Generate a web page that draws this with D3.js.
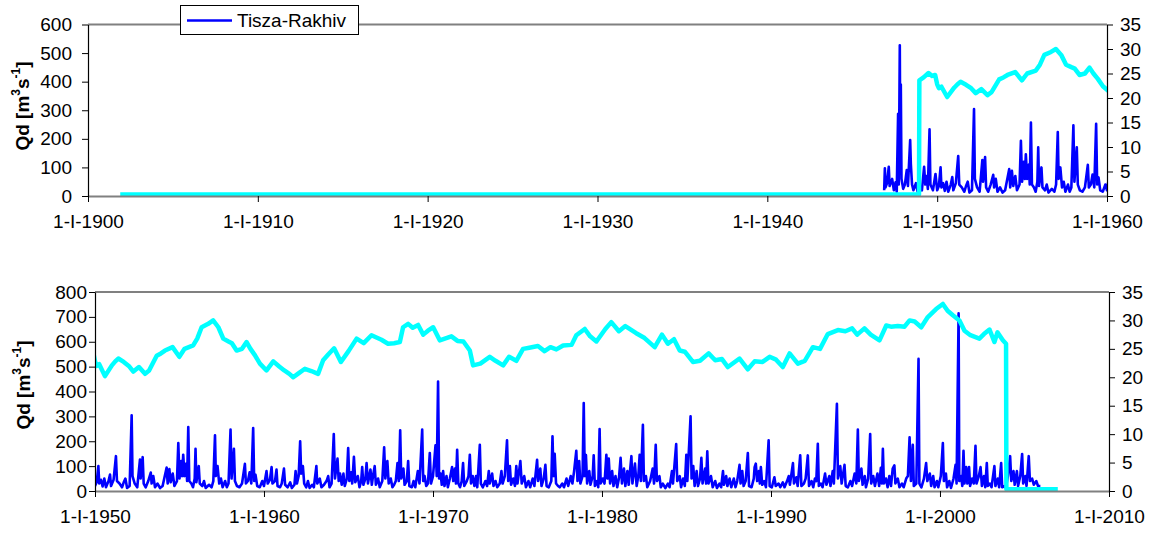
<!DOCTYPE html>
<html>
<head>
<meta charset="utf-8">
<script src="https://cdn.jsdelivr.net/npm/d3@7"></script>
<style>
html,body{margin:0;padding:0;background:#fff;}
svg{display:block;font-family:"Liberation Sans",Arial,sans-serif;}
</style>
</head>
<body>
<svg id="chart" width="1151" height="533"></svg>
<script>
// ---------------- DATA ----------------
const seriesName = "Tisza-Rakhiv";
const topYearTicks = [1900, 1910, 1920, 1930, 1940, 1950, 1960];
const bottomYearTicks = [1950, 1960, 1970, 1980, 1990, 2000, 2010];
const topQdTicks = [0, 100, 200, 300, 400, 500, 600];
const bottomQdTicks = [0, 100, 200, 300, 400, 500, 600, 700, 800];
const rightTicks = [0, 5, 10, 15, 20, 25, 30, 35];

// daily discharge Qd [m3/s] (decimal year, value)
const tiszaQd = [
[1946.88,20],[1946.92,97],[1946.96,30],[1947.05,45],[1947.15,102],[1947.2,35],[1947.35,60],[1947.45,20],[1947.55,48],[1947.62,15],
[1947.70,288],[1947.74,40],[1947.80,527],[1947.83,150],[1947.86,390],[1947.9,60],[1948.0,25],[1948.1,40],[1948.21,91],[1948.28,35],
[1948.41,196],[1948.45,112],[1948.52,40],[1948.6,20],[1948.75,45],[1948.85,15],[1949.0,30],[1949.1,20],[1949.23,102],[1949.3,40],
[1949.38,70],[1949.45,25],[1949.55,233],[1949.6,40],[1949.75,20],[1949.9,77],[1950.0,20],[1950.1,35],[1950.2,100],[1950.25,30],
[1950.35,45],[1950.45,18],[1950.55,50],[1950.65,15],[1950.8,40],[1950.89,66],[1950.95,20],[1951.1,45],[1951.24,140],[1951.3,40],
[1951.45,30],[1951.6,15],[1951.7,35],[1951.8,50],[1951.9,12],[1952.05,20],[1952.17,304],[1952.22,60],[1952.35,30],[1952.5,15],
[1952.66,126],[1952.7,50],[1952.82,136],[1952.88,30],[1953.0,15],[1953.15,40],[1953.3,74],[1953.35,30],[1953.45,60],[1953.55,15],
[1953.7,30],[1953.85,12],[1954.0,20],[1954.24,94],[1954.3,30],[1954.4,88],[1954.48,35],[1954.6,70],[1954.7,20],[1954.85,40],
[1954.93,193],[1955.0,50],[1955.1,120],[1955.16,60],[1955.22,146],[1955.3,60],[1955.4,110],[1955.45,40],[1955.52,257],[1955.58,40],
[1955.7,30],[1955.8,15],[1955.9,50],[1955.95,170],[1956.0,35],[1956.14,100],[1956.2,30],[1956.35,20],[1956.45,40],[1956.55,12],
[1956.75,25],[1956.9,15],[1957.0,40],[1957.1,224],[1957.15,60],[1957.25,100],[1957.35,30],[1957.45,50],[1957.55,15],[1957.7,40],
[1957.8,15],[1957.9,30],[1958.02,247],[1958.08,50],[1958.22,170],[1958.28,40],[1958.4,20],[1958.55,15],[1958.7,30],[1958.87,109],
[1958.93,30],[1959.05,40],[1959.15,75],[1959.25,30],[1959.36,253],[1959.42,40],[1959.5,65],[1959.6,20],[1959.75,15],[1959.9,40],
[1960.0,20],[1960.15,80],[1960.22,30],[1960.35,45],[1960.45,96],[1960.5,30],[1960.65,40],[1960.74,86],[1960.8,20],[1960.95,15],
[1961.05,30],[1961.18,90],[1961.25,25],[1961.4,15],[1961.55,35],[1961.65,12],[1961.8,25],[1961.87,80],[1961.95,30],[1962.05,60],
[1962.14,200],[1962.2,70],[1962.3,100],[1962.38,30],[1962.5,15],[1962.6,40],[1962.7,12],[1962.85,25],[1962.95,15],[1963.1,100],
[1963.15,30],[1963.3,50],[1963.4,15],[1963.55,25],[1963.7,40],[1963.8,60],[1963.88,15],[1964.0,30],[1964.13,229],[1964.2,50],
[1964.35,130],[1964.42,40],[1964.5,70],[1964.6,25],[1964.7,70],[1964.78,20],[1964.9,50],[1964.98,173],[1965.05,40],[1965.15,75],
[1965.22,30],[1965.32,137],[1965.4,35],[1965.55,60],[1965.65,15],[1965.75,40],[1965.81,96],[1965.88,25],[1966.0,50],[1966.07,112],
[1966.15,30],[1966.3,86],[1966.38,25],[1966.45,60],[1966.55,100],[1966.62,25],[1966.75,50],[1966.85,15],[1967.0,40],[1967.11,176],
[1967.18,50],[1967.3,120],[1967.38,30],[1967.5,50],[1967.6,15],[1967.7,25],[1967.8,40],[1967.9,112],[1967.98,40],[1968.06,244],
[1968.12,50],[1968.25,90],[1968.32,25],[1968.45,40],[1968.53,120],[1968.6,20],[1968.75,15],[1968.85,40],[1968.95,15],[1969.1,80],
[1969.2,30],[1969.36,247],[1969.42,40],[1969.5,60],[1969.6,20],[1969.7,30],[1969.81,153],[1969.88,30],[1970.0,60],[1970.15,184],
[1970.22,60],[1970.30,440],[1970.36,50],[1970.45,70],[1970.52,25],[1970.6,80],[1970.68,20],[1970.8,60],[1970.88,15],[1971.0,50],
[1971.13,96],[1971.2,40],[1971.3,90],[1971.36,30],[1971.43,166],[1971.5,30],[1971.6,15],[1971.7,40],[1971.78,112],[1971.85,20],
[1972.0,40],[1972.1,60],[1972.18,146],[1972.25,30],[1972.35,60],[1972.45,20],[1972.55,60],[1972.62,15],[1972.77,186],[1972.83,30],
[1972.95,15],[1973.1,40],[1973.2,20],[1973.3,80],[1973.36,30],[1973.5,70],[1973.58,20],[1973.7,40],[1973.8,15],[1973.95,30],
[1974.05,80],[1974.12,30],[1974.25,60],[1974.38,204],[1974.45,40],[1974.55,100],[1974.62,25],[1974.75,50],[1974.85,20],[1974.93,100],
[1975.0,30],[1975.17,120],[1975.25,30],[1975.4,60],[1975.5,15],[1975.65,40],[1975.75,15],[1975.9,50],[1976.0,20],[1976.16,125],
[1976.22,40],[1976.35,90],[1976.42,20],[1976.55,50],[1976.65,105],[1976.72,20],[1976.85,15],[1977.0,40],[1977.07,220],[1977.13,60],
[1977.2,150],[1977.28,30],[1977.4,20],[1977.5,15],[1977.65,30],[1977.75,15],[1977.9,50],[1978.0,20],[1978.15,60],[1978.25,30],
[1978.35,80],[1978.48,162],[1978.55,40],[1978.65,120],[1978.72,30],[1978.85,60],[1978.92,354],[1978.98,60],[1979.05,145],[1979.12,30],
[1979.25,80],[1979.32,25],[1979.45,60],[1979.51,144],[1979.58,20],[1979.7,40],[1979.78,15],[1979.86,249],[1979.92,30],[1980.05,50],
[1980.15,30],[1980.26,146],[1980.32,50],[1980.4,130],[1980.48,30],[1980.6,80],[1980.68,20],[1980.8,60],[1980.9,15],[1981.0,50],
[1981.1,133],[1981.18,30],[1981.3,90],[1981.38,20],[1981.5,80],[1981.58,25],[1981.74,140],[1981.8,30],[1981.95,110],[1982.05,20],
[1982.15,60],[1982.23,146],[1982.3,40],[1982.42,266],[1982.48,40],[1982.6,60],[1982.68,15],[1982.85,40],[1983.0,90],[1983.08,30],
[1983.18,186],[1983.25,40],[1983.4,60],[1983.48,15],[1983.6,30],[1983.75,12],[1983.9,30],[1984.0,15],[1984.14,80],[1984.2,30],
[1984.39,189],[1984.45,40],[1984.6,60],[1984.68,15],[1984.8,50],[1984.9,20],[1984.99,146],[1985.05,40],[1985.24,300],[1985.3,50],
[1985.4,100],[1985.48,20],[1985.6,80],[1985.68,20],[1985.8,50],[1985.88,133],[1985.95,30],[1986.1,90],[1986.16,30],[1986.23,160],
[1986.3,30],[1986.45,60],[1986.55,15],[1986.7,40],[1986.8,12],[1986.95,30],[1987.05,15],[1987.16,80],[1987.22,25],[1987.35,60],
[1987.42,20],[1987.55,50],[1987.65,15],[1987.8,50],[1987.9,15],[1988.0,40],[1988.14,105],[1988.2,30],[1988.3,80],[1988.38,20],
[1988.5,40],[1988.63,153],[1988.7,20],[1988.85,15],[1988.98,50],[1989.03,96],[1989.1,110],[1989.18,40],[1989.28,80],[1989.34,30],
[1989.4,96],[1989.48,25],[1989.6,40],[1989.7,15],[1989.86,204],[1989.92,20],[1990.05,15],[1990.2,55],[1990.28,20],[1990.45,30],
[1990.55,15],[1990.7,35],[1990.8,15],[1990.95,40],[1991.05,60],[1991.12,25],[1991.3,112],[1991.36,30],[1991.5,55],[1991.58,20],
[1991.73,144],[1991.8,20],[1991.95,30],[1992.05,50],[1992.18,143],[1992.25,20],[1992.4,40],[1992.5,15],[1992.6,50],[1992.68,40],
[1992.77,190],[1992.83,20],[1992.95,30],[1993.05,15],[1993.2,70],[1993.28,25],[1993.45,60],[1993.52,20],[1993.65,80],[1993.72,30],
[1993.9,351],[1993.96,50],[1994.1,100],[1994.18,30],[1994.35,105],[1994.42,20],[1994.55,15],[1994.7,40],[1994.8,20],[1994.95,70],
[1995.05,30],[1995.14,247],[1995.2,40],[1995.35,90],[1995.42,25],[1995.55,60],[1995.62,15],[1995.75,50],[1995.87,229],[1995.93,30],
[1996.05,60],[1996.15,20],[1996.3,70],[1996.4,20],[1996.5,93],[1996.56,30],[1996.62,170],[1996.68,30],[1996.8,50],[1996.9,15],
[1997.0,60],[1997.1,20],[1997.2,90],[1997.3,103],[1997.36,30],[1997.5,50],[1997.6,15],[1997.75,30],[1997.85,15],[1998.0,50],
[1998.1,60],[1998.2,216],[1998.28,40],[1998.39,186],[1998.45,20],[1998.6,30],[1998.73,531],[1998.78,30],[1998.9,15],[1999.05,50],
[1999.18,112],[1999.25,40],[1999.4,70],[1999.48,20],[1999.6,60],[1999.68,15],[1999.82,40],[1999.9,15],[2000.05,60],[2000.17,193],
[2000.23,40],[2000.35,70],[2000.42,15],[2000.55,40],[2000.65,12],[2000.8,50],[2000.92,105],[2000.98,30],[2001.10,714],[2001.14,40],
[2001.25,60],[2001.32,20],[2001.39,162],[2001.45,30],[2001.55,96],[2001.62,30],[2001.72,96],[2001.78,20],[2001.9,50],[2002.0,30],
[2002.1,182],[2002.16,30],[2002.3,60],[2002.4,96],[2002.48,20],[2002.6,60],[2002.68,15],[2002.77,112],[2002.83,20],[2002.95,30],
[2003.05,15],[2003.22,100],[2003.28,20],[2003.42,50],[2003.5,15],[2003.62,112],[2003.68,15],[2003.8,20],[2003.9,12],[2004.02,60],
[2004.15,140],[2004.22,40],[2004.35,80],[2004.42,25],[2004.55,80],[2004.62,20],[2004.75,60],[2004.86,149],[2004.92,30],[2005.05,60],
[2005.12,20],[2005.25,140],[2005.32,40],[2005.45,50],[2005.55,25],[2005.7,40],[2005.8,20],[2005.94,20]
];

// smoothed series on the secondary (right) axis
const smoothed = [
[1901.9,0.3],[1948.93,0.3],[1948.95,23.6],[1949.2,24.2],[1949.49,25.1],[1949.7,24.5],[1949.88,24.7],[1950.0,22.8],[1950.1,22.0],
[1950.25,22.3],[1950.59,20.2],[1951.0,22.1],[1951.2,22.8],[1951.38,23.3],[1951.7,22.7],[1952.0,22.0],[1952.27,21.0],[1952.6,21.8],
[1952.96,20.6],[1953.2,21.2],[1953.65,23.8],[1953.9,24.2],[1954.14,24.7],[1954.59,25.3],[1954.99,23.6],[1955.3,25.0],[1955.81,25.6],
[1956.05,26.8],[1956.31,28.8],[1956.7,29.4],[1956.99,30.0],[1957.3,28.8],[1957.59,26.8],[1957.9,26.3],[1958.1,26.0],[1958.38,24.7],
[1958.7,25.0],[1958.97,26.2],[1959.2,25.0],[1959.46,23.9],[1959.76,22.4],[1960.15,21.2],[1960.55,22.8],[1960.9,21.9],[1961.2,21.2],
[1961.5,20.6],[1961.73,20.0],[1962.0,20.6],[1962.42,21.5],[1962.8,21.1],[1963.2,20.6],[1963.5,23.0],[1963.8,24.0],[1964.15,25.1],
[1964.55,22.7],[1965.0,24.6],[1965.48,26.8],[1965.9,26.0],[1966.36,27.4],[1966.95,26.6],[1967.34,25.9],[1967.7,26.0],[1968.04,26.2],
[1968.23,28.8],[1968.53,29.4],[1968.8,28.7],[1969.12,29.2],[1969.42,27.5],[1969.7,28.2],[1970.01,28.8],[1970.4,26.5],[1970.7,26.8],
[1971.09,27.2],[1971.45,26.4],[1971.8,26.3],[1972.18,24.7],[1972.37,22.1],[1972.8,22.4],[1973.36,23.6],[1973.7,22.9],[1974.15,22.1],
[1974.5,23.6],[1974.93,22.9],[1975.33,25.0],[1975.7,25.2],[1976.21,25.5],[1976.6,24.6],[1976.95,25.3],[1977.3,24.9],[1977.7,25.6],
[1978.2,25.7],[1978.48,27.4],[1978.98,28.5],[1979.3,27.2],[1979.67,26.3],[1980.2,28.5],[1980.55,29.7],[1981.0,28.1],[1981.38,29.0],
[1982.0,27.8],[1982.52,26.9],[1983.12,25.3],[1983.55,27.5],[1983.9,25.9],[1984.26,26.7],[1984.6,24.7],[1984.9,24.5],[1985.38,22.7],
[1985.8,22.9],[1986.31,24.2],[1986.7,23.0],[1987.1,23.2],[1987.45,21.8],[1988.14,23.3],[1988.63,21.4],[1989.03,22.8],[1989.5,22.7],
[1989.92,23.6],[1990.3,23.1],[1990.7,21.8],[1991.1,24.2],[1991.59,22.4],[1992.0,22.9],[1992.48,25.3],[1992.9,25.0],[1993.36,27.6],
[1993.96,28.3],[1994.4,28.1],[1994.8,28.6],[1995.1,27.5],[1995.53,28.6],[1995.9,27.5],[1996.42,26.5],[1996.82,29.1],[1997.1,28.9],
[1997.5,29.0],[1997.9,28.9],[1998.2,30.0],[1998.5,29.8],[1998.89,28.8],[1999.28,30.6],[1999.77,32.0],[2000.17,32.9],[2000.45,31.7],
[2000.76,30.9],[2001.15,30.0],[2001.45,28.2],[2001.8,27.4],[2002.33,26.8],[2002.6,27.6],[2002.93,28.4],[2003.22,26.2],[2003.4,27.9],
[2003.72,26.5],[2003.91,25.9],[2003.93,0.3],[2006.97,0.3]
];

// ---------------- DRAWING ----------------
const svg = d3.select("#chart");
const FONT = 19;
const FF = "Liberation Sans, Arial, sans-serif";

function toDate(y) {
  const Y = Math.floor(y);
  const s = Date.UTC(Y, 0, 1), e = Date.UTC(Y + 1, 0, 1);
  return new Date(s + (y - Y) * (e - s));
}
const fmt = d => "1-I-" + d.getUTCFullYear();

const panels = [
  {id: "p1", x0: 88, x1: 1107, yTop: 24.5, yBot: 196, years: topYearTicks, qdTicks: topQdTicks,
   leftLabelEnd: 72, rightLabelX: 1120, titleX: 24, titleY: 106, legend: true},
  {id: "p2", x0: 95, x1: 1109, yTop: 292, yBot: 491, years: bottomYearTicks, qdTicks: bottomQdTicks,
   leftLabelEnd: 87, rightLabelX: 1122, titleX: 25, titleY: 385, legend: false}
];

panels.forEach(p => {
  const x = d3.scaleUtc()
    .domain([toDate(p.years[0]), toDate(p.years[p.years.length - 1])])
    .range([p.x0, p.x1]);
  const yL = d3.scaleLinear().domain([0, d3.max(p.qdTicks)]).range([p.yBot, p.yTop]);
  const yR = d3.scaleLinear().domain([0, d3.max(rightTicks)]).range([p.yBot, p.yTop]);

  svg.append("clipPath").attr("id", "clip-" + p.id)
    .append("rect").attr("x", p.x0).attr("y", p.yTop - 2)
    .attr("width", p.x1 - p.x0).attr("height", p.yBot - p.yTop + 4);

  // plot top border
  svg.append("line").attr("x1", p.x0).attr("x2", p.x1).attr("y1", p.yTop).attr("y2", p.yTop)
    .attr("stroke", "#808080").attr("stroke-width", 2);

  const g = svg.append("g").attr("clip-path", "url(#clip-" + p.id + ")");

  const blueLine = d3.line().x(d => x(toDate(d[0]))).y(d => yL(d[1]));
  g.append("path").datum(tiszaQd).attr("d", blueLine)
    .attr("fill", "none").attr("stroke", "#0000ff").attr("stroke-width", 2.6)
    .attr("stroke-linejoin", "round");

  const cyanLine = d3.line().x(d => x(toDate(d[0]))).y(d => yR(d[1]));
  g.append("path").datum(smoothed).attr("d", cyanLine)
    .attr("fill", "none").attr("stroke", "#00ffff").attr("stroke-width", 4.5)
    .attr("stroke-linejoin", "round");

  // x axis
  const xAxis = d3.axisBottom(x).tickValues(p.years.map(toDate)).tickFormat(fmt)
    .tickSizeInner(6).tickSizeOuter(0).tickPadding(13);
  const gx = svg.append("g").attr("transform", `translate(0,${p.yBot})`).call(xAxis);
  gx.select(".domain").attr("stroke", "#808080").attr("stroke-width", 2);
  gx.selectAll(".tick line").attr("stroke", "#000");
  gx.selectAll("text").attr("font-size", FONT).attr("fill", "#000").attr("font-family", FF);

  // left axis
  const leftAxis = d3.axisLeft(yL).tickValues(p.qdTicks).tickSizeInner(6).tickSizeOuter(0)
    .tickPadding(p.x0 - p.leftLabelEnd - 6);
  const gl = svg.append("g").attr("transform", `translate(${p.x0},0)`).call(leftAxis);
  gl.select(".domain").attr("stroke", "#000").attr("stroke-width", 1.2);
  gl.selectAll("text").attr("font-size", FONT).attr("fill", "#000").attr("font-family", FF);

  // right axis
  const rightAxis = d3.axisRight(yR).tickValues(rightTicks).tickSizeInner(6).tickSizeOuter(0)
    .tickPadding(p.rightLabelX - p.x1 - 6);
  const gr = svg.append("g").attr("transform", `translate(${p.x1},0)`).call(rightAxis);
  gr.select(".domain").attr("stroke", "#000").attr("stroke-width", 1.2);
  gr.selectAll("text").attr("font-size", FONT).attr("fill", "#000").attr("font-family", FF);

  // y title
  const t = svg.append("text")
    .attr("transform", `translate(${p.titleX},${p.titleY}) rotate(-90)`)
    .attr("text-anchor", "middle").attr("dominant-baseline", "middle")
    .attr("font-size", FONT).attr("font-weight", "bold").attr("fill", "#000");
  t.append("tspan").text("Qd [m");
  t.append("tspan").text("3").attr("font-size", 12).attr("dy", -7);
  t.append("tspan").text("s").attr("dy", 7);
  t.append("tspan").text("-1").attr("font-size", 12).attr("dy", -7);
  t.append("tspan").text("]").attr("dy", 7);

  if (p.legend) {
    const lg = svg.append("g");
    lg.append("rect").attr("x", 180.5).attr("y", 5.5).attr("width", 178).attr("height", 29)
      .attr("fill", "#fff").attr("stroke", "#000").attr("stroke-width", 1);
    lg.append("line").attr("x1", 187).attr("x2", 232).attr("y1", 20.5).attr("y2", 20.5)
      .attr("stroke", "#0000ff").attr("stroke-width", 2.5);
    lg.append("text").attr("x", 237).attr("y", 27).attr("font-size", FONT).attr("fill", "#000")
      .text(seriesName);
  }
});
</script>
</body>
</html>
